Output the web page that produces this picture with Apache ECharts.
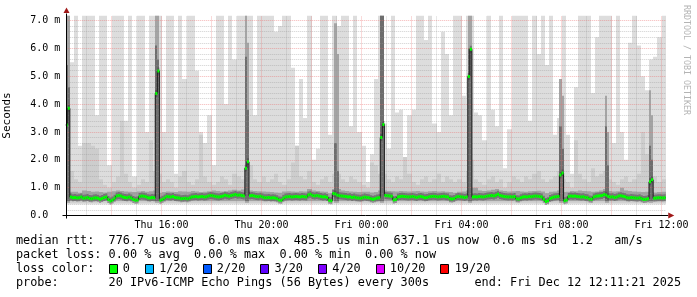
<!DOCTYPE html>
<html><head><meta charset="utf-8">
<script src="https://cdn.jsdelivr.net/npm/echarts@6/dist/echarts.min.js"></script>
<style>html,body{margin:0;padding:0;background:#fff}#c{width:697px;height:297px}</style>
</head><body><div id="c"></div>
<script>
// ---- time frame (hours since Thu 00:00) ----
const viewStart = 12 + 11/60 + 21/3600;   // Thu 12:11:21
const viewEnd = viewStart + 24;            // Fri 12:11:21
const dataStart = 12 + 10/60;              // first 300 s step
const STEP = 5/60, BIN = 10/60;
const yMax = 7.18;

// ---- median rtt (ms), one value per 300 s step ----
const medianMs = [
 3.25,3.85,0.66,0.64,0.65,0.63,0.64,0.66,0.62,0.63,0.65,0.61,0.60,0.63,0.64,0.62,0.58,0.61,0.65,0.66,0.57,0.52,0.56,0.62,
 0.70,0.72,0.70,0.66,0.65,0.64,0.66,0.63,0.57,0.55,0.56,0.68,0.70,0.69,0.67,0.64,0.63,0.65,0.64,4.38,5.19,0.55,0.58,0.63,
 0.68,0.67,0.66,0.68,0.65,0.64,0.63,0.60,0.61,0.62,0.60,0.63,0.66,0.67,0.68,0.66,0.67,0.68,0.66,0.67,0.70,0.72,0.71,0.69,
 0.67,0.66,0.68,0.70,0.73,0.71,0.69,0.72,0.74,0.75,0.73,0.74,0.72,0.70,1.70,1.93,0.71,0.72,0.70,0.68,0.67,0.69,0.66,0.64,
 0.64,0.65,0.63,0.64,0.63,0.60,0.56,0.55,0.62,0.66,0.67,0.68,0.66,0.67,0.68,0.67,0.66,0.68,0.67,0.66,0.74,0.76,0.72,0.70,
 0.72,0.70,0.68,0.66,0.67,0.65,0.55,0.53,0.79,0.77,0.73,0.71,0.70,0.69,0.68,0.66,0.67,0.65,0.66,0.64,0.63,0.62,0.64,0.66,
 0.65,0.64,0.60,0.58,0.60,0.63,0.64,2.80,3.27,0.72,0.71,0.70,0.69,0.56,0.57,0.66,0.68,0.69,0.68,0.67,0.66,0.67,0.68,0.66,
 0.65,0.67,0.68,0.66,0.64,0.65,0.67,0.68,0.69,0.68,0.66,0.67,0.68,0.69,0.67,0.66,0.60,0.59,0.61,0.66,0.68,0.67,0.66,0.65,
 0.66,4.99,5.97,0.66,0.67,0.66,0.68,0.67,0.66,0.68,0.70,0.71,0.72,0.70,0.73,0.76,0.72,0.70,0.68,0.67,0.66,0.67,0.66,0.68,
 0.60,0.59,0.64,0.66,0.67,0.66,0.68,0.67,0.69,0.70,0.69,0.68,0.66,0.58,0.50,0.53,0.61,0.64,0.66,0.67,0.68,1.45,1.53,0.53,
 0.56,0.68,0.70,0.69,0.70,0.68,0.67,0.66,0.67,0.65,0.64,0.59,0.58,0.66,0.69,0.70,0.71,0.72,0.75,0.73,0.68,0.66,0.67,0.65,
 0.66,0.70,0.71,0.69,0.67,0.64,0.63,0.65,0.64,0.63,0.62,0.64,0.60,0.57,0.58,0.60,1.21,1.28,0.62,0.63,0.64,0.64,0.63,0.64
];

// ---- smoke (ms), one value per 10 min: top of light / mid / dark bands ----
const smokeTopLight = [
 7.18,5.5,7.18,2.5,7.18,7.18,7.18,3.6,7.18,7.18,1.8,7.18,7.18,7.18,3.4,7.18,1.4,7.18,7.18,3.0,7.18,7.18,7.18,3.0,
 7.18,7.18,1.5,7.18,4.9,7.18,7.18,5.2,3.0,2.6,3.6,1.8,7.18,7.18,4.0,7.18,5.6,7.18,7.18,7.18,7.18,3.6,7.18,7.18,
 7.18,7.18,6.6,6.8,7.18,7.18,5.3,2.5,4.9,3.5,7.18,2.0,2.4,7.18,7.18,2.9,7.18,6.8,7.18,7.18,3.2,7.18,3.0,2.5,
 1.2,2.2,4.9,7.18,3.3,2.4,7.18,3.7,3.8,1.8,3.6,3.8,7.18,7.18,6.3,7.18,3.3,3.0,6.6,5.8,3.6,7.18,7.18,4.3,
 7.18,7.18,3.7,3.6,2.7,7.18,3.8,3.2,7.18,1.7,3.1,7.18,7.18,7.18,7.18,3.4,7.18,5.8,7.18,5.4,7.18,2.9,3.5,7.18,
 2.9,1.5,4.6,7.18,7.18,7.18,4.4,6.4,7.18,7.18,7.18,2.6,7.18,3.0,2.0,6.2,7.18,6.1,5.0,4.5,5.6,5.7,6.4,7.18
];
const smokeTopMid = [
 1.6,1.6,1.3,1.2,2.6,2.6,2.5,2.4,1.3,1.1,1.0,1.2,1.4,3.4,1.5,1.2,1.0,1.1,1.3,1.2,2.7,1.6,1.5,1.2,
 1.3,1.2,1.0,1.4,1.6,1.2,1.1,1.3,2.9,1.4,1.2,1.1,1.2,1.4,1.3,1.1,1.5,1.4,1.3,1.6,1.8,1.3,1.2,1.4,
 1.2,1.3,1.5,1.2,1.1,1.3,1.9,2.5,1.4,1.3,1.6,1.2,1.1,1.3,1.4,1.2,1.5,1.5,1.3,1.2,1.4,1.3,1.2,1.1,
 1.0,1.9,1.8,1.5,1.5,1.3,1.2,1.4,1.3,2.1,1.5,1.2,1.1,1.3,1.4,1.2,1.3,1.5,1.2,1.4,1.3,1.2,1.3,1.2,
 1.6,2.0,1.3,1.2,1.1,1.3,1.4,1.2,1.3,1.0,1.2,1.4,1.3,1.2,1.4,1.3,1.5,1.6,1.3,1.2,1.3,1.4,1.6,1.3,
 1.2,1.0,2.7,1.5,1.3,1.2,1.7,1.4,1.5,1.6,1.3,1.2,1.1,1.3,1.4,1.2,1.3,1.5,3.0,2.2,1.8,1.4,1.2,1.3
];
const smokeTopDark = [
 0.90,0.85,0.85,0.82,0.90,0.88,0.85,0.86,0.84,0.83,0.85,0.87,0.90,0.88,0.86,0.85,0.84,0.86,0.88,0.85,0.87,0.90,0.82,0.84,
 0.86,0.85,0.84,0.87,0.86,0.85,0.88,0.86,0.84,0.85,0.87,0.90,0.88,0.86,0.87,0.90,0.92,0.90,0.93,0.95,0.90,0.88,0.87,0.86,
 0.85,0.84,0.83,0.82,0.86,0.87,0.86,0.85,0.87,0.86,0.95,0.90,0.88,0.86,0.85,0.80,0.95,0.95,0.90,0.88,0.86,0.85,0.84,0.85,
 0.85,0.83,0.84,0.90,0.90,0.88,0.87,0.86,0.88,0.87,0.86,0.87,0.88,0.86,0.85,0.87,0.88,0.86,0.87,0.85,0.84,0.82,0.85,0.86,
 0.90,1.00,1.00,0.90,0.88,0.90,0.92,0.95,0.90,0.88,0.86,0.87,0.88,0.86,0.85,0.87,0.88,0.89,0.86,0.80,0.85,0.86,0.90,0.84,
 0.85,0.88,0.87,0.90,0.88,0.87,0.85,0.86,0.90,0.95,0.88,0.86,0.87,1.00,0.90,0.88,0.86,0.85,0.84,0.85,0.90,0.83,0.84,0.85
];
const smokeFloor = [0.40, 0.46, 0.52];
// dark smoke columns around the spikes: [step index, mid top, dark top]
const spikeSmoke = [
 [0,7.18,5.4],[1,7.18,4.6],
 [43,7.18,6.1],[44,7.18,5.6],
 [86,7.18,5.7],[87,6.2,3.8],
 [129,6.9,2.6],[130,5.8,1.6],
 [151,7.18,7.18],[152,7.18,7.18],
 [193,7.18,6.0],[194,7.18,6.0],
 [237,4.9,3.2],[238,4.3,2.4],
 [259,4.3,3.2],[260,3.0,1.8],
 [280,4.5,2.5],[281,3.6,2.0]
];

// ---- axis ticks ----
const tickHours = [16, 20, 24, 28, 32, 36];
const tickLabels = ['Thu 16:00','Thu 20:00','Fri 00:00','Fri 04:00','Fri 08:00','Fri 12:00'];
const gridHours = [13,14,15,16,17,18,19,20,21,22,23,24,25,26,27,28,29,30,31,32,33,34,35,36];

// ---- legend text ----
const legendLine1 = 'median rtt:  776.7 us avg  6.0 ms max  485.5 us min  637.1 us now  0.6 ms sd  1.2   am/s';
const legendLine2 = 'packet loss: 0.00 % avg  0.00 % max  0.00 % min  0.00 % now';
const lossLabel = 'loss color:';
const lossNames = ['0','1/20','2/20','3/20','4/20','10/20','19/20'];
const lossColors = ['#00ff00','#00b8ff','#0059ff','#5e00ff','#7e00ff','#dd00ff','#ff0000'];
const probeText = 'probe:       20 IPv6-ICMP Echo Pings (56 Bytes) every 300s';
const endText = 'end: Fri Dec 12 12:11:21 2025';

const MONO = '"DejaVu Sans Mono", monospace';
const LEG_FONT = '11.84px ' + MONO;
const MAJOR = 'rgba(235,110,110,0.5)', MINOR = 'rgba(150,150,150,0.45)';

const smokeData = smokeTopLight.map((v,k)=>[dataStart+k*BIN, dataStart+(k+1)*BIN, v, smokeTopMid[k], smokeTopDark[k]]);
const spikeData = spikeSmoke.map(s=>[dataStart+s[0]*STEP, dataStart+(s[0]+1)*STEP, s[1], s[2]]);
const medSeg = medianMs.map((v,j)=>[dataStart+j*STEP, dataStart+(j+1)*STEP, v]);
const medLine = medianMs.map((v,j)=>[dataStart+j*STEP, v]);
medLine.push([dataStart+medianMs.length*STEP, medianMs[medianMs.length-1]]);

function band(api, t0, t1, lo, hi, fill){
  const a = api.coord([t0, hi]), b = api.coord([t1, lo]);
  const x0 = Math.round(a[0]), x1 = Math.round(b[0]);
  return {type:'rect', shape:{x:x0, y:a[1], width:x1-x0, height:b[1]-a[1]}, style:{fill:fill}};
}
function segment(width, color){
  return (p, api) => {
    const a = api.coord([api.value(0), api.value(2)]), b = api.coord([api.value(1), api.value(2)]);
    return {type:'line', shape:{x1:a[0], y1:a[1], x2:b[0], y2:b[1]}, style:{stroke:color, lineWidth:width}};
  };
}

const chart = echarts.init(document.getElementById('c'), null, {renderer:'canvas'});
chart.setOption({
  animation:false,
  backgroundColor:'#ffffff',
  grid:{left:66.23, right:697-666.23, top:15.5, bottom:297-215.5, outerBoundsMode:'none', containLabel:false},
  xAxis:{type:'value', min:viewStart, max:viewEnd, z:2,
    axisLine:{show:false}, axisTick:{show:false}, splitLine:{show:false},
    axisLabel:{customValues:tickHours, margin:5, color:'#000', fontFamily:MONO, fontSize:10,
      formatter:(v)=>{const i=tickHours.findIndex(h=>Math.abs(h-v)<1e-6); return i>=0?tickLabels[i]:'';}}},
  yAxis:{type:'value', min:0, max:yMax, interval:0.2, z:2,
    name:'Seconds', nameLocation:'middle', nameRotate:90, nameGap:54,
    nameTextStyle:{fontFamily:MONO, fontSize:11, color:'#000'},
    axisLine:{show:false}, axisTick:{show:false},
    axisLabel:{margin:6, color:'#000', fontFamily:MONO, fontSize:10,
      formatter:(v)=>{ if (Math.abs(v-Math.round(v))>1e-6 || v>7.01) return ''; return Math.round(v)===0 ? '0.0  ' : v.toFixed(1)+' m'; }},
    splitLine:{show:true, showMaxLine:false, lineStyle:{width:1, type:[1,1],
      color:[MAJOR, MINOR, MINOR, MINOR, MINOR]}}},
  series:[
    {type:'custom', z:1, clip:true, silent:true, data:smokeData, encode:{x:[0,1], y:[2,3,4]},
      renderItem:(p,api)=>({type:'group', children:[
        band(api, api.value(0), api.value(1), smokeFloor[0], api.value(2), '#dddddd'),
        band(api, api.value(0), api.value(1), smokeFloor[1], api.value(3), '#cdcdcd'),
        band(api, api.value(0), api.value(1), smokeFloor[2], api.value(4), '#a2a2a2')
      ]})},
    {type:'custom', z:1.5, clip:true, silent:true, data:spikeData, encode:{x:[0,1], y:[2,3]},
      renderItem:(p,api)=>({type:'group', children:[
        band(api, api.value(0), api.value(1), smokeFloor[1], api.value(2), '#a4a4a4'),
        band(api, api.value(0), api.value(1), smokeFloor[2], api.value(3), '#6e6e6e')
      ]})},
    {type:'line', z:2, data:[], silent:true,
      markLine:{z:2, silent:true, symbol:['none','none'], label:{show:false}, animation:false,
        data:gridHours.map(h=>({xAxis:h, lineStyle:{width:1, type:[1,1], color: h%2===0 ? MAJOR : MINOR}}))}},
    {type:'custom', z:3, clip:true, silent:true, data:medSeg, encode:{x:[0,1], y:2},
      renderItem:segment(7, 'rgba(50,50,50,0.4)')},
    {type:'line', z:4, step:'end', data:medLine, showSymbol:false, silent:true,
      lineStyle:{width:1, color:'#1a1a1a'}},
    {type:'custom', z:5, clip:true, silent:true, data:medSeg, encode:{x:[0,1], y:2},
      renderItem:segment(3, lossColors[0])}
  ]
});

// axes, arrows, legend
const pO = chart.convertToPixel({gridIndex:0}, [viewStart, 0]);
const pTR = chart.convertToPixel({gridIndex:0}, [viewEnd, yMax]);
const ax = Math.floor(pO[0]) + 0.5, ay = Math.floor(pO[1]) + 0.5;
const plotTop = pTR[1], plotRight = pTR[0];
const cv = document.createElement('canvas').getContext('2d');
cv.font = LEG_FONT;
const cw = cv.measureText('0').width;
const g = [];
g.push({type:'line', z:10, shape:{x1:ax-4, y1:ay, x2:plotRight+2, y2:ay}, style:{stroke:'#000', lineWidth:1}});
g.push({type:'line', z:10, shape:{x1:ax, y1:ay+3, x2:ax, y2:plotTop-2}, style:{stroke:'#000', lineWidth:1}});
g.push({type:'polygon', z:11, shape:{points:[[ax-3,plotTop-2.5],[ax+3,plotTop-2.5],[ax,plotTop-8]]}, style:{fill:'#a01818'}});
g.push({type:'polygon', z:11, shape:{points:[[plotRight+2,ay-3],[plotRight+2,ay+3],[plotRight+8,ay]]}, style:{fill:'#a01818'}});
g.push({type:'text', z:10, x:686.5, y:60, rotation:-Math.PI/2,
  style:{text:'RRDTOOL / TOBI OETIKER', x:0, y:0, align:'center', verticalAlign:'middle', font:'8.3px '+MONO, fill:'#b4b4b4'}});
const L0 = 16;
g.push({type:'text', z:10, style:{text:legendLine1, x:L0, y:241, verticalAlign:'middle', font:LEG_FONT, fill:'#000'}});
g.push({type:'text', z:10, style:{text:legendLine2, x:L0, y:255, verticalAlign:'middle', font:LEG_FONT, fill:'#000'}});
g.push({type:'text', z:10, style:{text:lossLabel, x:L0, y:269, verticalAlign:'middle', font:LEG_FONT, fill:'#000'}});
let idx = 13;
lossNames.forEach((nm,i)=>{
  const bx = Math.round(L0 + idx*cw) + 0.5;
  g.push({type:'rect', z:10, shape:{x:bx, y:264.5, width:8, height:9}, style:{fill:lossColors[i], stroke:'#000', lineWidth:1}});
  const tx = L0 + (idx+2)*cw;
  g.push({type:'text', z:10, style:{text:nm, x:tx, y:269, verticalAlign:'middle', font:LEG_FONT, fill:'#000'}});
  idx = idx + 2 + nm.length + 2.1;
});
g.push({type:'text', z:10, style:{text:probeText, x:L0, y:283, verticalAlign:'middle', font:LEG_FONT, fill:'#000'}});
g.push({type:'text', z:10, style:{text:endText, x:681, y:283, align:'right', verticalAlign:'middle', font:LEG_FONT, fill:'#000'}});
chart.setOption({graphic:g});
</script></body></html>
